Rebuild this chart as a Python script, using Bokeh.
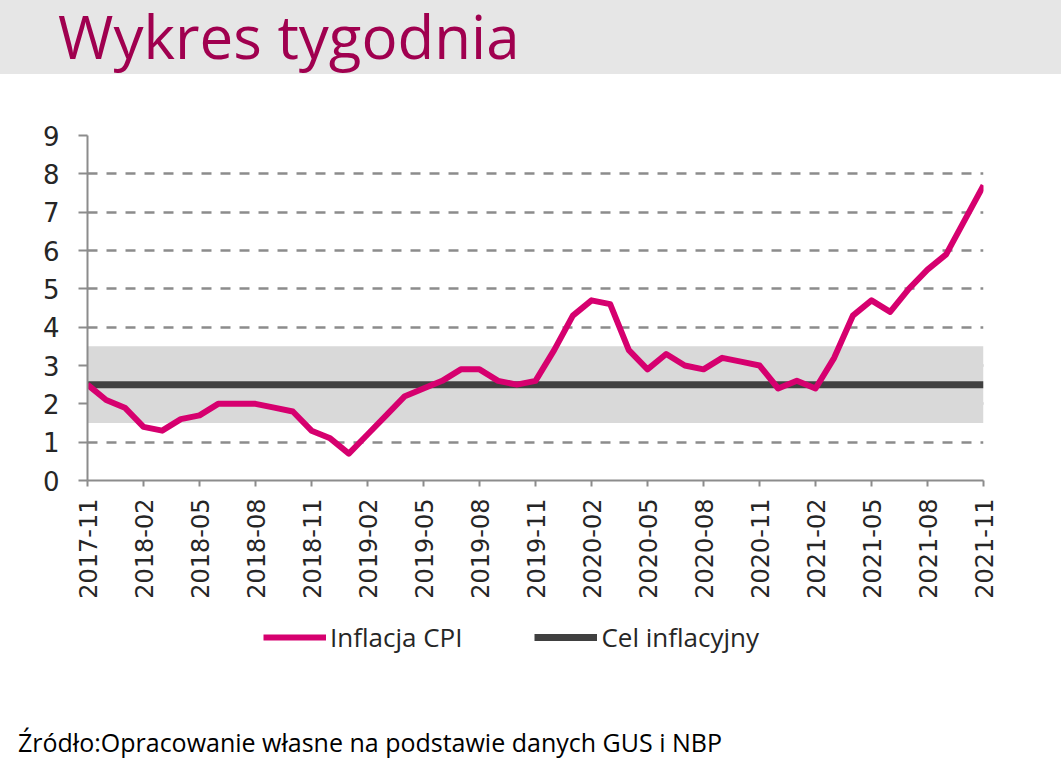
import math
from bokeh.plotting import figure
from bokeh.models import Range1d, FixedTicker, Legend, LegendItem, Div
from bokeh.layouts import column
from bokeh.embed import file_html
from bokeh.resources import INLINE

# ---------------- data ----------------
title_text = "Wykres tygodnia"
source_text = "Źródło:Opracowanie własne na podstawie danych GUS i NBP"

months = [
    "2017-11", "2017-12",
    "2018-01", "2018-02", "2018-03", "2018-04", "2018-05", "2018-06",
    "2018-07", "2018-08", "2018-09", "2018-10", "2018-11", "2018-12",
    "2019-01", "2019-02", "2019-03", "2019-04", "2019-05", "2019-06",
    "2019-07", "2019-08", "2019-09", "2019-10", "2019-11", "2019-12",
    "2020-01", "2020-02", "2020-03", "2020-04", "2020-05", "2020-06",
    "2020-07", "2020-08", "2020-09", "2020-10", "2020-11", "2020-12",
    "2021-01", "2021-02", "2021-03", "2021-04", "2021-05", "2021-06",
    "2021-07", "2021-08", "2021-09", "2021-10", "2021-11",
]
cpi = [
    2.5, 2.1,
    1.9, 1.4, 1.3, 1.6, 1.7, 2.0, 2.0, 2.0, 1.9, 1.8, 1.3, 1.1,
    0.7, 1.2, 1.7, 2.2, 2.4, 2.6, 2.9, 2.9, 2.6, 2.5, 2.6, 3.4,
    4.3, 4.7, 4.6, 3.4, 2.9, 3.3, 3.0, 2.9, 3.2, 3.1, 3.0, 2.4,
    2.6, 2.4, 3.2, 4.3, 4.7, 4.4, 5.0, 5.5, 5.9, 6.8, 7.7,
]
target = 2.5
band_low, band_high = 1.5, 3.5
y_ticks = [0, 1, 2, 3, 4, 5, 6, 7, 8, 9]
tick_step = 3
series_names = ["Inflacja CPI", "Cel inflacyjny"]

CPI_COLOR, TARGET_COLOR = "#d6006f", "#404040"
W = 1061
HEAD_H, MAIN_H, LEG_H, FOOT_H = 74, 541, 75, 74
BL, BR = 87, 78
n = len(cpi)
xs = list(range(n))
x_ticks = xs[::tick_step]
tick_labels = {i: months[i] for i in x_ticks}
NAN = float("nan")

# ---------------- header ----------------
header = Div(
    text=('<div style="padding-left:58px; font-family:\'Open Sans\'; font-size:60px; '
          'line-height:72px; color:#a0004f; white-space:nowrap;">' + title_text + '</div>'),
    width=W, height=HEAD_H, margin=0,
    styles={"background-color": "#e6e6e6", "overflow": "visible"})

# ---------------- main chart ----------------
p = figure(width=W, height=MAIN_H, x_range=Range1d(0, n - 1), y_range=Range1d(0, 9),
           toolbar_location=None, output_backend="svg",
           min_border_left=BL, min_border_right=BR, min_border_top=61, min_border_bottom=135,
           outline_line_color=None)

p.quad(left=[0], right=[n - 1], bottom=[band_low], top=[band_high],
       fill_color="#d9d9d9", line_color=None)
p.line(x=[0, n - 1], y=[target, target], line_color=TARGET_COLOR, line_width=7)
p.line(x=xs, y=cpi, line_color=CPI_COLOR, line_width=6, line_join="round")

p.xgrid.visible = False
p.ygrid.grid_line_color = "#8c8c8c"
p.ygrid.grid_line_width = 2.5
p.ygrid.grid_line_dash = "10 9"

p.yaxis.ticker = FixedTicker(ticks=y_ticks)
p.yaxis.major_label_text_font = "DejaVu Sans"
p.yaxis.major_label_text_font_size = "26px"
p.yaxis.major_label_text_color = "#262626"
p.yaxis.major_tick_out = 9
p.yaxis.major_tick_in = 0
p.yaxis.minor_tick_line_color = None
p.yaxis.major_label_standoff = 19

p.xaxis.ticker = FixedTicker(ticks=x_ticks)
p.xaxis.major_label_overrides = tick_labels
p.xaxis.major_label_orientation = math.pi / 2
p.xaxis.major_label_text_font = "DejaVu Sans"
p.xaxis.major_label_text_font_size = "24px"
p.xaxis.major_label_text_color = "#262626"
p.xaxis.major_tick_out = 6
p.xaxis.major_tick_in = 0
p.xaxis.minor_tick_line_color = None
p.xaxis.major_label_standoff = 12

for ax in (p.xaxis, p.yaxis):
    ax.axis_line_color = "#8c8c8c"
    ax.axis_line_width = 2
    ax.major_tick_line_color = "#8c8c8c"
    ax.major_tick_line_width = 2

# ---------------- legend strip ----------------
lg = figure(width=W, height=LEG_H, x_range=Range1d(0, 1), y_range=Range1d(0, 1),
            x_axis_type=None, y_axis_type=None,
            toolbar_location=None, output_backend="svg",
            min_border_left=BL, min_border_right=BR, min_border_top=0, min_border_bottom=0,
            outline_line_color=None)
lg.grid.visible = False
k_cpi = lg.line(x=[NAN], y=[NAN], line_color=CPI_COLOR, line_width=6)
k_target = lg.line(x=[NAN], y=[NAN], line_color=TARGET_COLOR, line_width=7)
legend = Legend(items=[LegendItem(label=series_names[0], renderers=[k_cpi]),
                       LegendItem(label=series_names[1], renderers=[k_target])],
                orientation="horizontal", location=(176, 35),
                glyph_width=63, glyph_height=20, label_standoff=4, spacing=72,
                padding=0, margin=0, border_line_color=None, background_fill_alpha=0,
                label_text_font="Open Sans", label_text_font_size="26px",
                label_text_color="#262626")
lg.add_layout(legend)

# ---------------- footer ----------------
footer = Div(
    text=('<div style="padding-left:18px; padding-top:35px; font-family:\'Open Sans\'; '
          'font-size:25px; line-height:normal; color:#000000; white-space:nowrap;">'
          + source_text + '</div>'),
    width=W, height=FOOT_H, margin=0,
    styles={"background-color": "#ffffff", "overflow": "hidden"})

layout = column(header, p, lg, footer, spacing=0)
open("out.html", "w").write(file_html(layout, INLINE))
